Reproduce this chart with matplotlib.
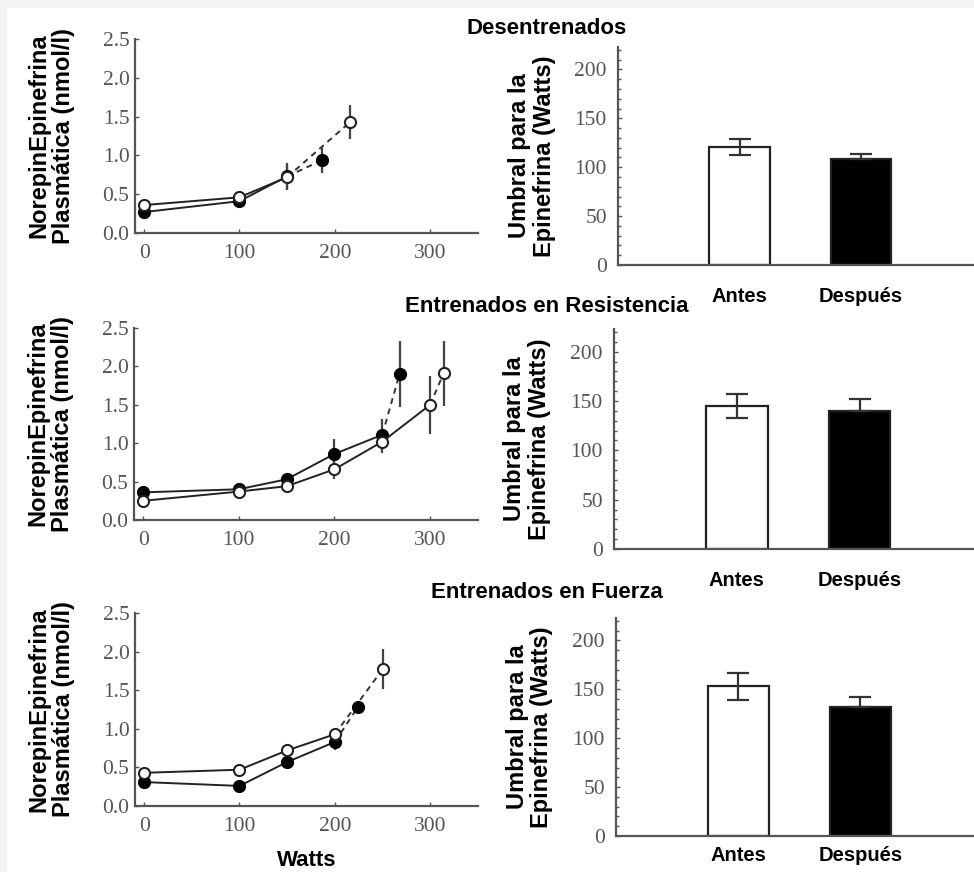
import matplotlib
matplotlib.use("Agg")
import matplotlib.pyplot as plt
from matplotlib.patches import Rectangle
from matplotlib.ticker import MultipleLocator

# --- data -------------------------------------------------------------
titles = ["Desentrenados", "Entrenados en Resistencia", "Entrenados en Fuerza"]

# open circles (Antes)
open_w = [[0, 100, 150], [0, 100, 150, 200, 250, 300], [0, 100, 150, 200]]
open_ne = [[0.36, 0.46, 0.72], [0.25, 0.37, 0.44, 0.66, 1.02, 1.50], [0.43, 0.47, 0.72, 0.93]]
open_err = [[0.04, 0.05, 0.17], [0.04, 0.05, 0.06, 0.12, 0.15, 0.38], [0.04, 0.04, 0.06, 0.08]]
open_dash_w = [[150, 216], [300, 314], [200, 250]]
open_dash_ne = [[0.72, 1.43], [1.50, 1.91], [0.93, 1.77]]
open_dash_err = [0.22, 0.42, 0.26]

# filled circles (Después)
fill_w = [[0, 100, 150], [0, 100, 150, 200, 250], [0, 100, 150, 200]]
fill_ne = [[0.27, 0.41, 0.73], [0.36, 0.40, 0.53, 0.86, 1.11], [0.31, 0.26, 0.57, 0.83]]
fill_err = [[0.04, 0.05, 0.17], [0.04, 0.05, 0.06, 0.20, 0.20], [0.04, 0.04, 0.08, 0.10]]
fill_dash_w = [[150, 187], [250, 268], [200, 224]]
fill_dash_ne = [[0.73, 0.94], [1.11, 1.90], [0.83, 1.28]]
fill_dash_err = [0.17, 0.43, 0.05]

bar_labels = ["Antes", "Después"]
bar_vals = [[121, 108], [145, 140], [153, 132]]
bar_err = [[8, 6], [12.5, 12], [14, 10]]

# --- layout (pixels) ----------------------------------------------------
W, H = 974, 872
line_boxes = [(135, 233, 343, 194), (134, 520, 344, 192), (135, 806, 343, 193)]
bar_boxes = [(618, 265, 356, 218), (614, 549, 360, 220), (616, 836, 358, 218)]
title_y = [28, 306, 592]
bar_pad = [16, 16, 7]

plt.rcParams['font.family'] = ['Liberation Sans', 'DejaVu Sans']
fig = plt.figure(figsize=(W / 100, H / 100), dpi=100)
fig.patch.set_facecolor('#f3f3f3')
fig.patches.append(Rectangle((7 / W, 0), 1, 1 - 8 / H, transform=fig.transFigure,
                             facecolor='white', edgecolor='none', zorder=-10))

serif = 'Liberation Serif'
spine_c = '#555555'
tick_c = '#555555'


def box(b):
    x, yb, w, h = b
    return [x / W, (H - yb) / H, w / W, h / H]


for i in range(3):
    # ---- line panel ----
    ax = fig.add_axes(box(line_boxes[i]))
    ax.set_xlim(-9.5, 350)
    ax.set_ylim(0, 2.5)
    for s in ['top', 'right']:
        ax.spines[s].set_visible(False)
    for s in ['left', 'bottom']:
        ax.spines[s].set_color(spine_c)
        ax.spines[s].set_linewidth(1.6)
    ax.set_xticks([0, 100, 200, 300])
    ax.set_yticks([0, 0.5, 1.0, 1.5, 2.0, 2.5])
    ax.set_yticklabels(['0.0', '0.5', '1.0', '1.5', '2.0', '2.5'])
    ax.tick_params(direction='in', length=3, width=1, color=tick_c,
                   labelsize=15.5, labelcolor='#555555', pad=4)
    for lab in ax.get_xticklabels() + ax.get_yticklabels():
        lab.set_family(serif)
    ax.tick_params(axis='x', pad=8)

    # dashed extensions
    ax.plot(open_dash_w[i], open_dash_ne[i], ls=(0, (3, 2.5)), color='#333333', lw=1.4, zorder=2)
    ax.plot(fill_dash_w[i], fill_dash_ne[i], ls=(0, (3, 2.5)), color='#333333', lw=1.4, zorder=2)
    ax.errorbar(open_dash_w[i][-1], open_dash_ne[i][-1], yerr=open_dash_err[i], fmt='o',
                ms=8, mfc='white', mec='#222222', mew=1.5, ecolor='#444444', elinewidth=1.6, zorder=4)
    ax.errorbar(fill_dash_w[i][-1], fill_dash_ne[i][-1], yerr=fill_dash_err[i], fmt='o',
                ms=8.5, mfc='black', mec='black', ecolor='#444444', elinewidth=1.6, zorder=4)

    # solid series
    ax.errorbar(fill_w[i], fill_ne[i], yerr=fill_err[i], fmt='-o', color='#222222', lw=1.4,
                ms=8.5, mfc='black', mec='black', ecolor='#444444', elinewidth=1.6, zorder=3)
    ax.errorbar(open_w[i], open_ne[i], yerr=open_err[i], fmt='-o', color='#222222', lw=1.4,
                ms=8, mfc='white', mec='#222222', mew=1.5, ecolor='#444444', elinewidth=1.6, zorder=3)

    fig.text(547 / W, 1 - title_y[i] / H, titles[i],
             ha='center', va='center', fontsize=16, fontweight='bold')

    ax.set_ylabel("NorepinEpinefrina\nPlasmática (nmol/l)", fontsize=17,
                  fontweight='bold', linespacing=1.1)
    ax.yaxis.set_label_coords(-0.175, 0.5)
    if i == 2:
        ax.set_xlabel("Watts", fontsize=16, fontweight='bold', labelpad=10)

    # ---- bar panel ----
    bx = fig.add_axes(box(bar_boxes[i]))
    bx.set_xlim(-1.0, 1.93)
    bx.set_ylim(0, 223)
    for s in ['top', 'right']:
        bx.spines[s].set_visible(False)
    for s in ['left', 'bottom']:
        bx.spines[s].set_color(spine_c)
        bx.spines[s].set_linewidth(1.6)
    pos = [0, 1]
    bx.bar(pos, bar_vals[i], width=0.5, color=['white', 'black'],
           edgecolor='#222222', linewidth=1.6, zorder=2)
    bx.errorbar(pos[0], bar_vals[i][0], yerr=bar_err[i][0], fmt='none', ecolor='#333333',
                elinewidth=1.6, capsize=8, capthick=1.6, zorder=3)
    bx.errorbar(pos[1], bar_vals[i][1], yerr=[[0], [bar_err[i][1]]], fmt='none', ecolor='#333333',
                elinewidth=1.6, capsize=8, capthick=1.6, zorder=3)
    bx.set_yticks([0, 50, 100, 150, 200])
    bx.yaxis.set_minor_locator(MultipleLocator(10))
    bx.set_xticks(pos)
    bx.set_xticklabels(bar_labels, fontsize=14.5, fontweight='bold')
    bx.tick_params(axis='x', length=0, pad=bar_pad[i])
    bx.tick_params(axis='y', which='both', direction='in', color=tick_c, width=1,
                   labelsize=15.5, labelcolor='#555555', pad=8)
    bx.tick_params(axis='y', which='major', length=3)
    bx.tick_params(axis='y', which='minor', length=2)
    for lab in bx.get_yticklabels():
        lab.set_family(serif)
    bx.set_ylabel("Umbral para la\nEpinefrina (Watts)", fontsize=17,
                  fontweight='bold', linespacing=1.1)
    bx.yaxis.set_label_coords(-0.175, 0.5)

fig.savefig("out.png", dpi=100, facecolor=fig.get_facecolor())
